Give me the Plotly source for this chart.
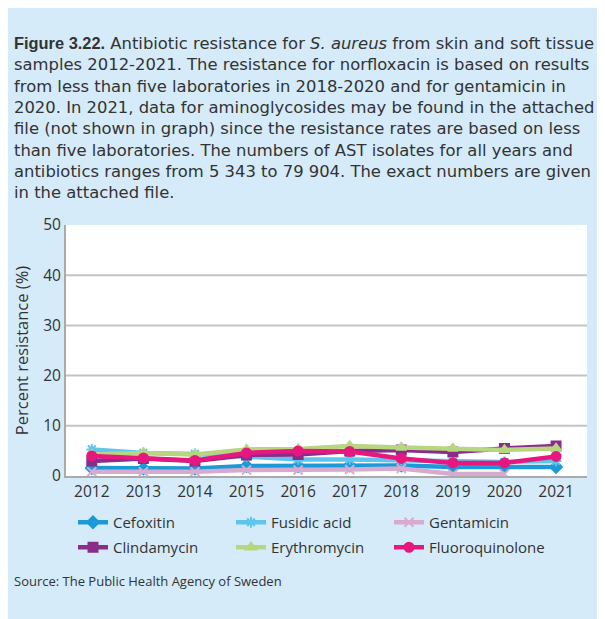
import plotly.graph_objects as go

years = [2012, 2013, 2014, 2015, 2016, 2017, 2018, 2019, 2020, 2021]
cefoxitin = [1.6, 1.5, 1.5, 2.0, 2.0, 2.1, 2.1, 1.8, 1.8, 1.8]
fusidic_acid = [5.3, 4.6, 4.4, 3.8, 3.3, 3.3, 3.1, 2.8, 2.8, 3.0]
gentamicin = [0.85, 0.85, 0.85, 1.2, 1.2, 1.3, 1.5, 0.4, 0.4, None]
clindamycin = [3.0, 3.5, 3.0, 4.2, 4.3, 5.0, 5.2, 4.8, 5.5, 6.0]
erythromycin = [4.3, 4.6, 4.3, 5.3, 5.4, 6.0, 5.7, 5.5, 5.2, 5.5]
fluoroquinolone = [4.0, 3.6, 3.1, 4.6, 5.0, 4.9, 3.5, 2.6, 2.6, 3.9]

y_ticks = [0, 10, 20, 30, 40, 50]
grid_values = [10, 20, 30, 40]

series = [
    ("Cefoxitin", cefoxitin, "#1b9ad7", "diamond", "legend"),
    ("Fusidic acid", fusidic_acid, "#5ec5ec", "asterisk-open", "legend"),
    ("Gentamicin", gentamicin, "#d7abd0", "x-thin-open", "legend"),
    ("Clindamycin", clindamycin, "#8a2c8a", "square", "legend2"),
    ("Erythromycin", erythromycin, "#b6d67f", "triangle-up", "legend2"),
    ("Fluoroquinolone", fluoroquinolone, "#e8177f", "circle", "legend2"),
]

title_lines = [
    "<span style='font-family:Liberation Sans, Arial'><b>Figure 3.22.</b></span> "
    "Antibiotic resistance for <i>S. aureus</i> from skin and soft tissue",
    "samples 2012-2021. The resistance for norfloxacin is based on results",
    "from less than five laboratories in 2018-2020 and for gentamicin in",
    "2020. In 2021, data for aminoglycosides may be found in the attached",
    "file (not shown in graph) since the resistance rates are based on less",
    "than five laboratories. The numbers of AST isolates for all years and",
    "antibiotics ranges from 5 343 to 79 904. The exact numbers are given",
    "in the attached file.",
]
source_text = "Source: The Public Health Agency of Sweden"

fig = go.Figure()
for name, vals, color, sym, leg in series:
    fig.add_trace(go.Scatter(
        x=years, y=vals, name=name, mode="lines+markers", legend=leg,
        line=dict(color=color, width=4.5),
        marker=dict(color=color, symbol=sym, size=9,
                    line=dict(color=color, width=2)),
    ))

bg = "#d5ebf9"
FONT = "Open Sans, Liberation Sans, Arial, sans-serif"
TXT = "#333333"

# figure is placed at an 8px body offset in the page
L, R, T, B = 58, 26, 217, 151
W, H = 605, 619
plot_w = W - L - R
plot_h = H - T - B

def px_x(x):
    return (x - L) / plot_w

def px_y(y):
    return (H - B - y) / plot_h

annotations = [
    dict(text="<br>".join(title_lines), xref="paper", yref="paper",
         x=px_x(4), y=px_y(35.5 + 3.5 * 21.3),
         xanchor="left", yanchor="middle", align="left", showarrow=False,
         font=dict(family="DejaVu Sans, Open Sans, sans-serif", size=16.4, color=TXT)),
    dict(text=source_text, xref="paper", yref="paper", x=px_x(4), y=px_y(573),
         xanchor="left", yanchor="middle", showarrow=False,
         font=dict(size=13, color=TXT)),
]

shapes = [dict(type="line", xref="paper", yref="y", x0=0, x1=1, y0=g, y1=g,
               line=dict(color="#c4c4c4", width=2), layer="below") for g in grid_values]

leg_common = dict(orientation="h", x=px_x(65), xanchor="left", yanchor="top",
                  entrywidth=113, entrywidthmode="pixels",
                  font=dict(size=15, color=TXT), bgcolor="rgba(0,0,0,0)",
                  itemwidth=30)

fig.update_layout(
    width=W, height=H,
    paper_bgcolor=bg, plot_bgcolor="white",
    margin=dict(l=L, r=R, t=T, b=B, autoexpand=False),
    font=dict(family=FONT, color=TXT),
    showlegend=True,
    legend=dict(y=px_y(498), **leg_common),
    legend2=dict(y=px_y(523), **leg_common),
    annotations=annotations,
    shapes=shapes,
)
fig.update_xaxes(
    tickmode="array", tickvals=years, ticktext=[str(y) for y in years],
    range=[2011.5, 2021.6], showgrid=False, showline=True, linecolor="#aaaaaa",
    linewidth=2, tickfont=dict(size=15.5, color=TXT), ticks="", zeroline=False,
    automargin=False,
)
fig.update_yaxes(
    tickmode="array", tickvals=y_ticks, range=[0, 50],
    showgrid=False, showline=True, linecolor="#aaaaaa", linewidth=2, zeroline=False,
    tickfont=dict(size=15.5, color=TXT), automargin=False,
    title=dict(text="Percent resistance (%)", font=dict(size=16.5, color=TXT), standoff=10),
)

fig.write_html("out.html")
